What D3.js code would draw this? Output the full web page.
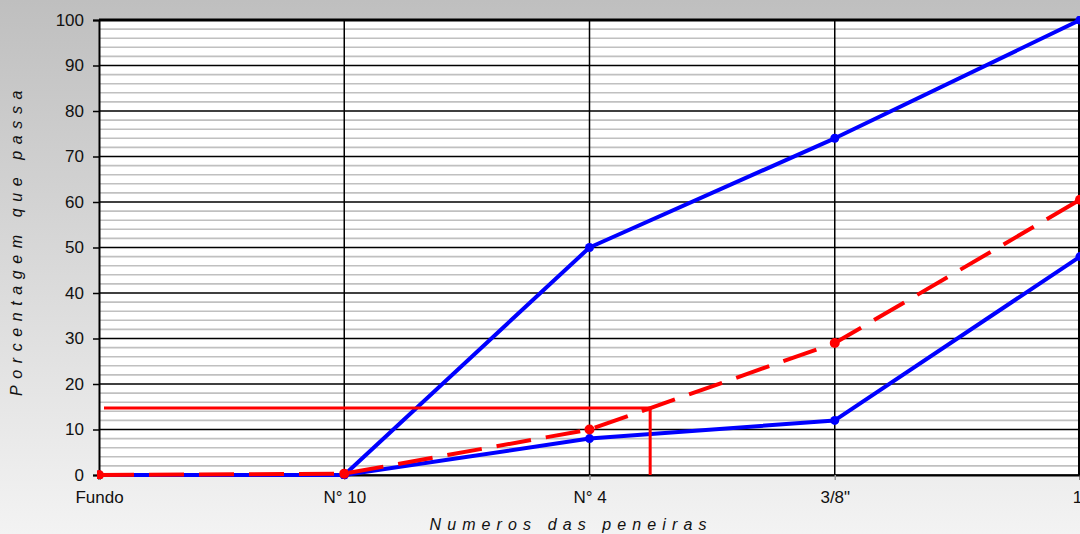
<!DOCTYPE html>
<html>
<head>
<meta charset="utf-8">
<script src="https://cdn.jsdelivr.net/npm/d3@7"></script>
<style>
  html, body { margin: 0; padding: 0; }
  body { width: 1080px; height: 534px; overflow: hidden; }
  svg { display: block; font-family: Arial, "Liberation Sans", sans-serif; }
</style>
</head>
<body>
<svg id="chart" width="1080" height="534"></svg>
<script>
// Sieve sizes (x categories)
const sieves = ["Fundo", "N° 10", "N° 4", "3/8\"", "1\""];
// Grading envelope: upper and lower limits (% passing)
const upperLimit = [0, 0, 50, 74, 100];
const lowerLimit = [0, 0, 8, 12, 48];
// Sample gradation curve (% passing)
const sample = [0, 0.3, 10, 29, 60.5];
// Guide line percentage read against the sample curve
const guidePercent = 14.7;
// Y ticks
const yMajorTicks = [0, 10, 20, 30, 40, 50, 60, 70, 80, 90, 100];
const yMinorTicks = d3.range(0, 101, 2).filter(v => v % 10 !== 0);

const W = 1080, H = 534;
const margin = { left: 99, right: 0, top: 20, bottom: 59 };
const plotW = 1080 - margin.left;           // last category sits on the right edge
const plotH = H - margin.top - margin.bottom;

const svg = d3.select("#chart");

// Background gradient
const defs = svg.append("defs");
const grad = defs.append("linearGradient").attr("id", "bg").attr("x1", 0).attr("y1", 0).attr("x2", 0).attr("y2", 1);
grad.append("stop").attr("offset", "0%").attr("stop-color", "#bfbfbf");
grad.append("stop").attr("offset", "100%").attr("stop-color", "#f3f3f3");
svg.append("rect").attr("width", W).attr("height", H).attr("fill", "url(#bg)");

defs.append("clipPath").attr("id", "plotClip")
  .append("rect").attr("x", -2).attr("y", -4).attr("width", plotW + 2).attr("height", plotH + 8);

const x = d3.scalePoint().domain(sieves).range([0, plotW]);
const y = d3.scaleLinear().domain([0, 100]).range([plotH, 0]);

const g = svg.append("g").attr("transform", `translate(${margin.left},${margin.top})`);

// Plot area
g.append("rect").attr("width", plotW).attr("height", plotH).attr("fill", "#ffffff");

// Minor horizontal gridlines
g.append("g").selectAll("line").data(yMinorTicks).join("line")
  .attr("x1", 0).attr("x2", plotW)
  .attr("y1", d => y(d)).attr("y2", d => y(d))
  .attr("stroke", "#c0c0c0").attr("stroke-width", 1.6);

// Major horizontal gridlines
g.append("g").selectAll("line").data(yMajorTicks).join("line")
  .attr("x1", 0).attr("x2", plotW)
  .attr("y1", d => y(d)).attr("y2", d => y(d))
  .attr("stroke", "#000").attr("stroke-width", 1.5);

// Vertical gridlines at each sieve
g.append("g").selectAll("line").data(sieves.slice(1)).join("line")
  .attr("x1", d => x(d)).attr("x2", d => x(d))
  .attr("y1", 0).attr("y2", plotH)
  .attr("stroke", "#000").attr("stroke-width", 1.5);

// Frame: thick top, right edge
g.append("line").attr("x1", 0).attr("x2", plotW).attr("y1", 0).attr("y2", 0)
  .attr("stroke", "#000").attr("stroke-width", 3);
g.append("line").attr("x1", plotW - 1).attr("x2", plotW - 1).attr("y1", 0).attr("y2", plotH)
  .attr("stroke", "#000").attr("stroke-width", 2);

// Y axis
const yAxis = d3.axisLeft(y).tickValues(yMajorTicks).tickSize(6).tickPadding(9);
const ya = g.append("g").call(yAxis);
ya.select(".domain").attr("stroke", "#000").attr("stroke-width", 2);
ya.selectAll(".tick line").attr("stroke", "#000").attr("stroke-width", 1.5);
ya.selectAll(".tick text").attr("font-size", 17).attr("fill", "#111")
  .attr("font-family", "Arial, 'Liberation Sans', sans-serif");

// X axis
const xAxis = d3.axisBottom(x).tickSize(5).tickPadding(11);
const xa = g.append("g").attr("transform", `translate(0,${plotH})`).call(xAxis);
xa.select(".domain").attr("stroke", "#000").attr("stroke-width", 2);
xa.selectAll(".tick line").attr("stroke", "#999").attr("stroke-width", 1.5);
xa.selectAll(".tick text").attr("font-size", 17).attr("fill", "#111")
  .attr("font-family", "Arial, 'Liberation Sans', sans-serif");

// Series
const line = d3.line().x((d, i) => x(sieves[i])).y(d => y(d));
const plot = g.append("g").attr("clip-path", "url(#plotClip)");

function drawSeries(values, color, dashed, r) {
  plot.append("path").datum(values)
    .attr("d", line).attr("fill", "none")
    .attr("stroke", color).attr("stroke-width", 4)
    .attr("stroke-linejoin", "round")
    .attr("stroke-dasharray", dashed ? "35,15" : null);
  plot.append("g").selectAll("circle").data(values).join("circle")
    .attr("cx", (d, i) => x(sieves[i])).attr("cy", d => y(d))
    .attr("r", r).attr("fill", color);
}

drawSeries(upperLimit, "#0000ff", false, 4.5);
drawSeries(lowerLimit, "#0000ff", false, 4.5);

// Guide line: horizontal at guidePercent until it meets the sample curve, then down to the axis
let gx = null;
for (let i = 0; i < sample.length - 1; i++) {
  const a = sample[i], b = sample[i + 1];
  if (guidePercent >= a && guidePercent <= b && b > a) {
    const t = (guidePercent - a) / (b - a);
    gx = x(sieves[i]) + t * (x(sieves[i + 1]) - x(sieves[i]));
    break;
  }
}
plot.append("path")
  .attr("d", `M5,${y(guidePercent)}H${gx}V${plotH}`)
  .attr("fill", "none").attr("stroke", "#ff0000").attr("stroke-width", 3);

drawSeries(sample, "#ff0000", true, 5);

// Axis titles
svg.append("text")
  .attr("transform", `translate(22,240) rotate(-90)`)
  .attr("text-anchor", "middle")
  .attr("font-size", 16).attr("font-style", "italic")
  .attr("letter-spacing", "6.6px").attr("fill", "#111")
  .text("Porcentagem que passa");

svg.append("text")
  .attr("x", 571).attr("y", 530)
  .attr("text-anchor", "middle")
  .attr("font-size", 16).attr("font-style", "italic")
  .attr("letter-spacing", "6.1px").attr("fill", "#111")
  .text("Numeros das peneiras");
</script>
</body>
</html>
